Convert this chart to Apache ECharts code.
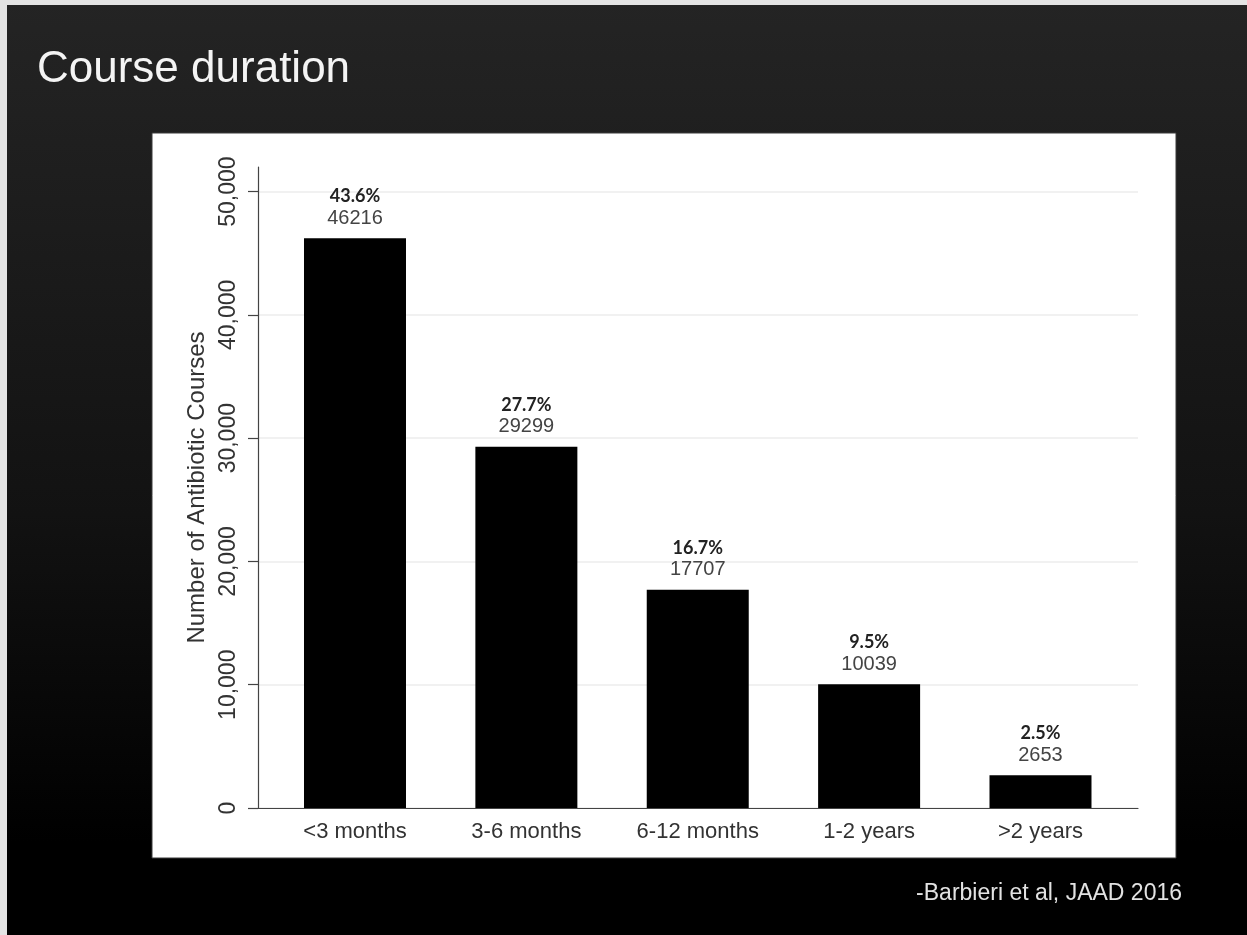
<!DOCTYPE html>
<html>
<head>
<meta charset="utf-8">
<title>Course duration</title>
<script src="https://cdn.jsdelivr.net/npm/echarts@6.0.0/dist/echarts.min.js"></script>
<style>
  html, body { margin: 0; padding: 0; background: #e6e6e6; }
  #chart { width: 1247px; height: 935px; }
</style>
</head>
<body>
<div id="chart"></div>
<script>
// Antibiotic course duration categories and counts
const categories = ['<3 months', '3-6 months', '6-12 months', '1-2 years', '>2 years'];
const courseCounts = [46216, 29299, 17707, 10039, 2653];
const coursePercents = ['43.6', '27.7', '16.7', '9.5', '2.5'];
const yTicks = [0, 10000, 20000, 30000, 40000, 50000];
const xPositions = [0, 1, 2, 3, 4];

const chart = echarts.init(document.getElementById('chart'), null, { renderer: 'canvas' });

const withCommas = v => String(v).replace(/\B(?=(\d{3})+(?!\d))/g, ',');

const option = {
  backgroundColor: {
    type: 'linear', x: 0, y: 0, x2: 0, y2: 1,
    colorStops: [
      { offset: 0, color: '#242424' },
      { offset: 0.55, color: '#121212' },
      { offset: 0.9, color: '#000000' },
      { offset: 1, color: '#000000' }
    ]
  },
  animation: false,
  title: [
    {
      text: 'Course duration',
      left: 32, top: 43,
      textStyle: { color: '#f4f4f4', fontSize: 44, fontWeight: 'normal', fontFamily: 'Liberation Sans, Arial, sans-serif' }
    },
    {
      text: '-Barbieri et al, JAAD 2016',
      right: 60, top: 877,
      textStyle: { color: '#e2e2e2', fontSize: 23, fontWeight: 'normal', fontFamily: 'Liberation Sans, Arial, sans-serif' }
    }
  ],
  graphic: [
    // light page edge
    { type: 'rect', silent: true, z: -10, shape: { x: 0, y: 0, width: 7, height: 935 }, style: { fill: '#e4e4e4' } },
    { type: 'rect', silent: true, z: -10, shape: { x: 0, y: 0, width: 1247, height: 5 }, style: { fill: '#e4e4e4' } },
    // white chart panel
    { type: 'rect', silent: true, z: -10, shape: { x: 152, y: 133, width: 1024, height: 725 }, style: { fill: '#ffffff', stroke: '#3a3a3a', lineWidth: 1 } }
  ],
  grid: { left: 258, right: 1247 - 1138, top: 167, bottom: 935 - 808, containLabel: false },
  xAxis: {
    type: 'value',
    min: -0.566, max: 4.569,
    axisLine: { show: true, onZero: false, lineStyle: { color: '#444', width: 1.2 } },
    axisTick: { show: false },
    splitLine: { show: false },
    axisLabel: {
      customValues: xPositions,
      formatter: v => categories[Math.round(v)],
      color: '#333', fontSize: 22, margin: 13,
      fontFamily: 'Liberation Sans, Arial, sans-serif'
    }
  },
  yAxis: {
    type: 'value',
    min: 0, max: 52000, interval: 10000,
    name: 'Number of Antibiotic Courses',
    nameLocation: 'middle', nameRotate: 90, nameGap: 42,
    nameTextStyle: { color: '#333', fontSize: 24, fontFamily: 'Liberation Sans, Arial, sans-serif' },
    axisLine: { show: true, onZero: false, lineStyle: { color: '#444', width: 1.2 } },
    axisTick: { show: true, length: 10, customValues: yTicks, lineStyle: { color: '#444', width: 1.2 } },
    splitLine: { show: true, lineStyle: { color: '#ededed', width: 1.5 } },
    axisLabel: {
      customValues: yTicks,
      rotate: 90, margin: 18,
      formatter: v => withCommas(v),
      color: '#333', fontSize: 23,
      fontFamily: 'Liberation Sans, Arial, sans-serif'
    }
  },
  series: [{
    type: 'bar',
    barWidth: 102,
    itemStyle: { color: '#000000' },
    data: xPositions.map((x, i) => [x, courseCounts[i]]),
    label: {
      show: true, position: 'top', distance: 9,
      formatter: p => `{p|${coursePercents[p.dataIndex]}%}\n{v|${courseCounts[p.dataIndex]}}`,
      rich: {
        p: { fontFamily: 'Lato, sans-serif', fontWeight: 'bold', fontSize: 18, color: '#222', lineHeight: 22, align: 'center' },
        v: { fontFamily: 'Liberation Sans, Arial, sans-serif', fontSize: 20, color: '#444', lineHeight: 22, align: 'center' }
      }
    }
  }]
};

chart.setOption(option);
</script>
</body>
</html>
